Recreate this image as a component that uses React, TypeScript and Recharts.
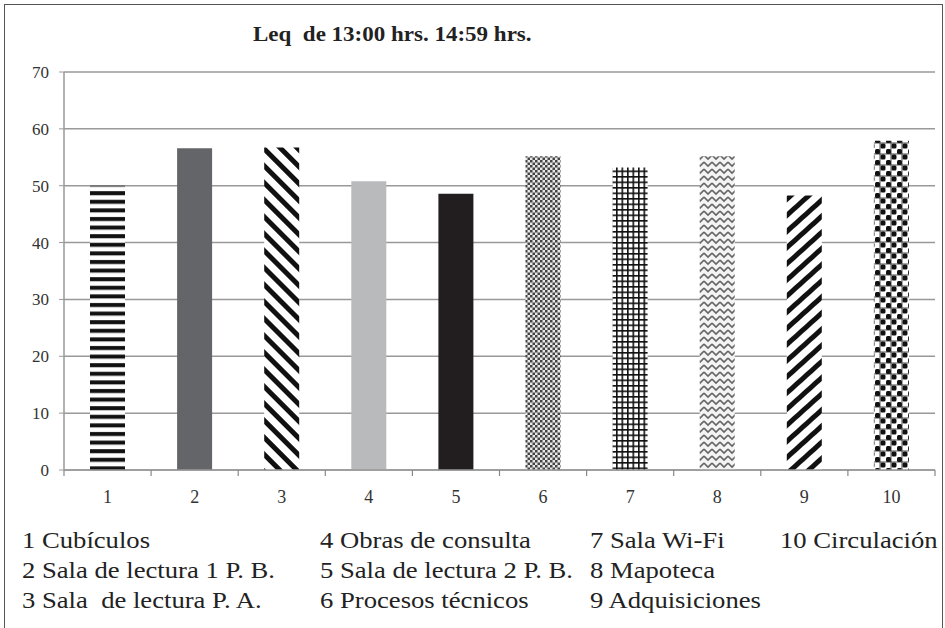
import React from "react";
import { BarChart, Bar, XAxis, YAxis, CartesianGrid, Cell } from "recharts";

const categories = ["1", "2", "3", "4", "5", "6", "7", "8", "9", "10"];
const leqValues = [50.0, 56.6, 56.7, 50.8, 48.6, 55.2, 53.2, 55.2, 48.3, 57.9];
const yTicks = [0, 10, 20, 30, 40, 50, 60, 70];
const legendColumns = [
  ["1 Cubículos", "2 Sala de lectura 1 P. B.", "3 Sala  de lectura P. A."],
  ["4 Obras de consulta", "5 Sala de lectura 2 P. B.", "6 Procesos técnicos"],
  ["7 Sala Wi-Fi", "8 Mapoteca", "9 Adquisiciones"],
  ["10 Circulación"],
];
const titleText = "Leq  de 13:00 hrs. 14:59 hrs.";

const barFills = [
  "url(#pHoriz)",
  "#636568",
  "url(#pDiagDown)",
  "#b9babc",
  "#221e1f",
  "url(#pFineCheck)",
  "url(#pGrid)",
  "url(#pZigzag)",
  "url(#pDiagUp)",
  "url(#pBigCheck)",
];

const legendX = [22, 320, 590, 780];

const data = categories.map((c, i) => ({ name: c, value: leqValues[i] }));

const XTick = (props: any) => {
  const { x, y, payload, width, visibleTicksCount, index } = props;
  const half = width / visibleTicksCount / 2;
  return (
    <g>
      <line x1={x + half} x2={x + half} y1={y} y2={y + 6} stroke="#888" strokeWidth={1.2} />
      {index === 0 && (
        <line x1={x - half} x2={x - half} y1={y} y2={y + 6} stroke="#888" strokeWidth={1.2} />
      )}
      <text
        x={x}
        y={y + 33}
        textAnchor="middle"
        fontFamily="'Liberation Serif', serif"
        fontSize={18}
        fill="#333"
      >
        {payload.value}
      </text>
    </g>
  );
};

export default function App() {
  return (
    <div
      style={{
        position: "absolute",
        left: 0,
        top: 0,
        width: 945,
        height: 628,
        background: "#fff",
        overflow: "hidden",
      }}
    >
      <div
        style={{
          position: "absolute",
          left: 4,
          top: 4,
          width: 937,
          height: 660,
          border: "1.5px solid #555",
        }}
      />
      <div
        style={{
          position: "absolute",
          left: 253,
          top: 23,
          transform: "scaleX(1.15)",
          transformOrigin: "left top",
          fontFamily: "'Liberation Serif', serif",
          fontWeight: "bold",
          fontSize: 20,
          color: "#222",
          whiteSpace: "pre",
        }}
      >
        {titleText}
      </div>
      <div style={{ position: "absolute", left: 0, top: 0 }}>
        <BarChart
          width={945}
          height={628}
          data={data}
          margin={{ top: 72, right: 10, left: 0, bottom: 128 }}
          barSize={35}
        >
          <defs>
            <pattern id="pHoriz" patternUnits="userSpaceOnUse" width={8} height={8.6}>
              <rect width={8} height={8.6} fill="#fff" />
              <rect y={2} width={8} height={4} fill="#111" />
            </pattern>
            <pattern
              id="pDiagDown"
              patternUnits="userSpaceOnUse"
              width={12}
              height={12}
              patternTransform="rotate(45)"
            >
              <rect width={12} height={12} fill="#fff" />
              <rect y={0} width={12} height={5} fill="#111" />
            </pattern>
            <pattern
              id="pDiagUp"
              patternUnits="userSpaceOnUse"
              width={12}
              height={12}
              patternTransform="rotate(-42)"
            >
              <rect width={12} height={12} fill="#fff" />
              <rect y={0} width={12} height={5} fill="#111" />
            </pattern>
            <pattern id="pFineCheck" patternUnits="userSpaceOnUse" width={5} height={5}>
              <rect width={5} height={5} fill="#e8e8e8" />
              <rect width={2.5} height={2.5} fill="#444" />
              <rect x={2.5} y={2.5} width={2.5} height={2.5} fill="#444" />
            </pattern>
            <pattern id="pGrid" patternUnits="userSpaceOnUse" width={5.5} height={5.5}>
              <rect width={5.5} height={5.5} fill="#fff" />
              <rect x={0} width={1.6} height={5.5} fill="#111" />
              <rect y={0} width={5.5} height={1.6} fill="#111" />
            </pattern>
            <pattern id="pZigzag" patternUnits="userSpaceOnUse" width={8} height={7}>
              <rect width={8} height={7} fill="#f4f4f4" />
              <path d="M0 1 L4 5 L8 1" stroke="#666" strokeWidth={1.6} fill="none" />
              <path d="M0 8 L4 12 L8 8 M0 -6 L4 -2 L8 -6" stroke="#666" strokeWidth={1.6} fill="none" />
            </pattern>
            <pattern id="pBigCheck" patternUnits="userSpaceOnUse" width={11} height={11}>
              <rect width={11} height={11} fill="#fff" />
              <rect x={0.5} y={0.5} width={5} height={5} rx={1.5} fill="#111" />
              <rect x={6} y={6} width={5} height={5} rx={1.5} fill="#111" />
              <rect x={0} y={0} width={11} height={11} fill="none" stroke="#222" strokeWidth={0.8} />
            </pattern>
          </defs>
          <CartesianGrid vertical={false} stroke="#999" strokeWidth={1.5} />
          <XAxis
            dataKey="name"
            height={30}
            tickLine={false}
            tickSize={0}
            tickMargin={0}
            axisLine={{ stroke: "#999", strokeWidth: 1.5 }}
            tick={<XTick />}
            interval={0}
          />
          <YAxis
            width={64}
            domain={[0, 70]}
            ticks={yTicks}
            interval={0}
            axisLine={{ stroke: "#999", strokeWidth: 1.5 }}
            tickLine={{ stroke: "#999" }}
            tickSize={5}
            tickMargin={10}
            tick={{ fontFamily: "'Liberation Serif', serif", fontSize: 17, fill: "#333" }}
          />
          <Bar dataKey="value" isAnimationActive={false}>
            {data.map((d, i) => (
              <Cell key={d.name} fill={barFills[i]} />
            ))}
          </Bar>
        </BarChart>
      </div>
      {legendColumns.map((col, ci) => (
        <div
          key={ci}
          style={{
            position: "absolute",
            left: legendX[ci],
            top: 525,
            transform: "scaleX(1.11)",
            transformOrigin: "left top",
            fontFamily: "'Liberation Serif', serif",
            fontSize: 24,
            lineHeight: "30px",
            color: "#222",
            whiteSpace: "pre",
          }}
        >
          {col.map((t) => (
            <div key={t}>{t}</div>
          ))}
        </div>
      ))}
    </div>
  );
}
